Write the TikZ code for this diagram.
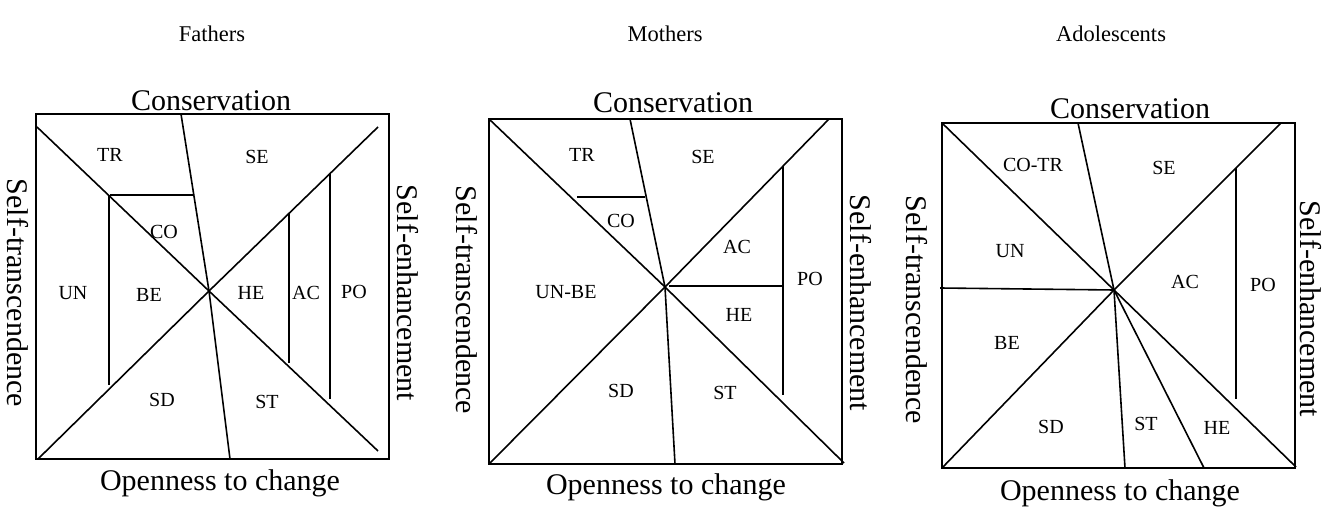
\documentclass[tikz,border=0pt]{standalone}
\usepackage{fontspec}
\setmainfont{Liberation Serif}
\begin{document}
\begin{tikzpicture}[x=1pt, y=-1pt, line width=1.6pt,
	lab/.style = {font=\fontsize{20}{20}\selectfont, inner sep=0pt},
	ax/.style = {font=\fontsize{30}{30}\selectfont, inner sep=0pt},
	ttl/.style = {font=\fontsize{22.5}{22.5}\selectfont, inner sep=0pt}]
	\useasboundingbox (0,0) rectangle (1333,510);

	\node[ttl] (t1) at (212,34) {Fathers};
	\node[ttl] (t2) at (665,34) {Mothers};
	\node[ttl] (t3) at (1111,34) {Adolescents};

	% Fathers
	\coordinate (f0) at (209,291);
	\draw (36,114) rectangle (389,459);
	\draw (37,127) -- (f0) -- (378,451);
	\draw (38,459) -- (f0) -- (378,127);
	\draw (181,114) -- (f0) -- (230,459);
	\draw (110,195) -- (194,195);
	\draw (109,195) -- (109,385);
	\draw (289,213) -- (289,363);
	\draw (330,173) -- (330,399);
	\node[ax] (f1) at (211,101) {Conservation};
	\node[ax] (f2) at (220,483) {Openness to change};
	\node[ax, rotate=-90] (f3) at (18,293) {Self-transcendence};
	\node[ax, rotate=-90] (f4) at (408,293) {Self-enhancement};
	\node[lab] (fTR) at (110,155) {TR};
	\node[lab] (fSE) at (257,157) {SE};
	\node[lab] (fCO) at (164,232) {CO};
	\node[lab] (fUN) at (73,293) {UN};
	\node[lab] (fBE) at (149,295) {BE};
	\node[lab] (fHE) at (251,293) {HE};
	\node[lab] (fAC) at (306,293) {AC};
	\node[lab] (fPO) at (354,292) {PO};
	\node[lab] (fSD) at (162,400) {SD};
	\node[lab] (fST) at (267,402) {ST};

	% Mothers
	\coordinate (m0) at (665,287);
	\draw (489,119) rectangle (842,464);
	\draw (489,119) -- (m0) -- (844,463);
	\draw (489,464) -- (m0) -- (829,119);
	\draw (630,119) -- (m0) -- (675,464);
	\draw (577,197) -- (645,197);
	\draw (669,286) -- (783,286);
	\draw (783,166) -- (783,395);
	\node[ax] (m1) at (673,103) {Conservation};
	\node[ax] (m2) at (666,487) {Openness to change};
	\node[ax, rotate=-90] (m3) at (467,300) {Self-transcendence};
	\node[ax, rotate=-90] (m4) at (861,303) {Self-enhancement};
	\node[lab] (mTR) at (582,155) {TR};
	\node[lab] (mSE) at (703,157) {SE};
	\node[lab] (mCO) at (621,221) {CO};
	\node[lab] (mAC) at (737,247) {AC};
	\node[lab] (mPO) at (810,279) {PO};
	\node[lab] (mUB) at (566,292) {UN-BE};
	\node[lab] (mHE) at (739,315) {HE};
	\node[lab] (mSD) at (621,391) {SD};
	\node[lab] (mST) at (725,393) {ST};

	% Adolescents
	\coordinate (a0) at (1114,290);
	\draw (942,123) rectangle (1295,468);
	\draw (942,123) -- (a0) -- (1296,467);
	\draw (942,468) -- (a0) -- (1281,123);
	\draw (1078,123) -- (a0) -- (1125,468);
	\draw (940,288) -- (a0) -- (1204,468);
	\draw (1236,168) -- (1236,399);
	\node[ax] (a1) at (1130,109) {Conservation};
	\node[ax] (a2) at (1120,493) {Openness to change};
	\node[ax, rotate=-90] (a3) at (917,310) {Self-transcendence};
	\node[ax, rotate=-90] (a4) at (1311,309) {Self-enhancement};
	\node[lab] (aCT) at (1033,165) {CO-TR};
	\node[lab] (aSE) at (1164,168) {SE};
	\node[lab] (aUN) at (1010,251) {UN};
	\node[lab] (aAC) at (1185,282) {AC};
	\node[lab] (aPO) at (1263,285) {PO};
	\node[lab] (aBE) at (1007,343) {BE};
	\node[lab] (aSD) at (1051,427) {SD};
	\node[lab] (aST) at (1146,424) {ST};
	\node[lab] (aHE) at (1217,428) {HE};
\end{tikzpicture}
\end{document}
